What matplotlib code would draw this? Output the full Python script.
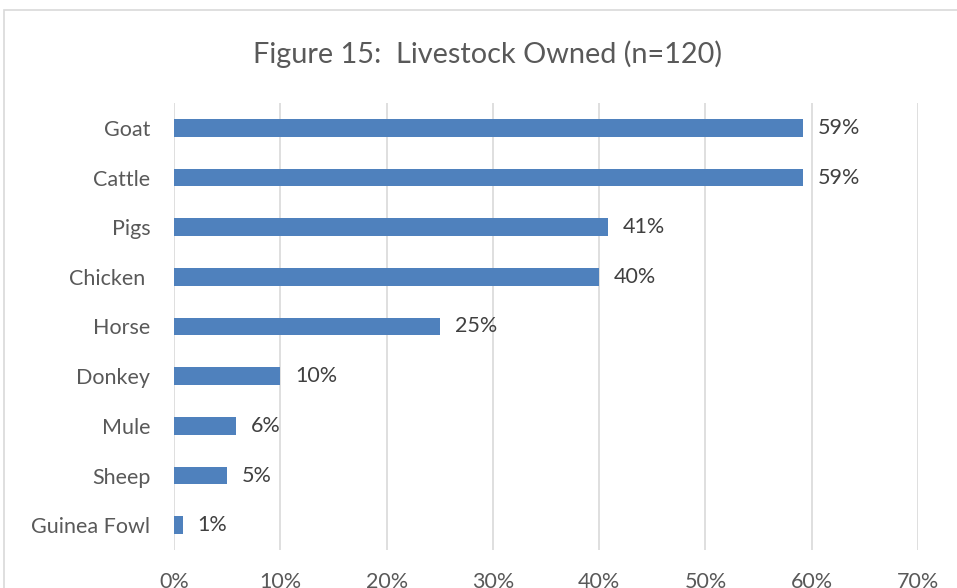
import matplotlib
matplotlib.use("Agg")
import matplotlib.pyplot as plt
from matplotlib.patches import Rectangle
from matplotlib.ticker import PercentFormatter

# data (counts out of n=120, shown as shares)
animals = ["Goat", "Cattle", "Pigs", "Chicken ", "Horse", "Donkey", "Mule", "Sheep", "Guinea Fowl"]
share = [71/120, 71/120, 49/120, 48/120, 30/120, 12/120, 7/120, 6/120, 1/120]
labels = ["59%", "59%", "41%", "40%", "25%", "10%", "6%", "5%", "1%"]

plt.rcParams['font.family'] = ['Lato', 'DejaVu Sans']
txt = "#595959"

fig = plt.figure(figsize=(9.57, 5.88), dpi=100)
ax = fig.add_axes([174/957, 1 - 550/588, (918 - 174)/957, (550 - 103)/588])

ypos = list(range(len(animals)))
ax.barh(ypos, share, height=0.36, color="#4F81BD", zorder=3)
for y, v, lab in zip(ypos, share, labels):
    ax.text(v + 0.014, y, lab, va="center", ha="left", fontsize=15.5, color="#404040")

ax.set_ylim(len(animals) - 0.5, -0.5)
ax.set_xlim(0, 0.7)
ax.set_yticks(ypos)
ax.set_yticklabels(animals, fontsize=15.5, color=txt)
ax.set_xticks([i / 10 for i in range(8)])
ax.xaxis.set_major_formatter(PercentFormatter(1.0, decimals=0))
ax.tick_params(axis="x", labelsize=15.5, labelcolor=txt, length=0, pad=16)
ax.tick_params(axis="y", length=0, pad=17)
ax.grid(axis="x", color="#D9D9D9", linewidth=1.2, zorder=0)
for s in ax.spines.values():
    s.set_visible(False)

fig.text(0.5 * (253 + 722) / 957, 1 - 54/588, "Figure 15:  Livestock Owned (n=120)",
         ha="center", va="center", fontsize=20.8, color=txt)

# chart border
fig.patches.append(Rectangle((4/957, -0.1), 1.2, 1 - 10/588 + 0.1, transform=fig.transFigure,
                             fill=False, edgecolor="#D9D9D9", linewidth=1.2))

fig.savefig("out.png", dpi=100)
